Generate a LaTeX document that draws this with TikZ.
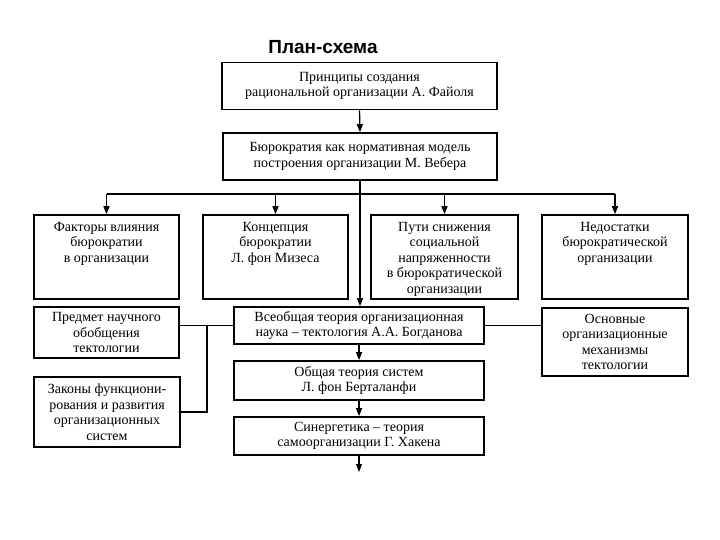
\documentclass[tikz,border=0pt]{standalone}
\usepackage{fontspec}
\setmainfont{Liberation Serif}
\newfontfamily\titlefont{Liberation Sans}
\usetikzlibrary{arrows.meta}
\tikzset{
  box/.style={draw, line width=1.6pt, inner sep=0pt, align=center,
    font=\fontsize{14}{15.5}\selectfont},
  conn/.style={line width=1.3pt},
  arr/.style={line width=1.3pt, -{Triangle[length=8pt,width=6pt]}}
}
\newcommand{\topbox}[2]{\parbox[c][#1][t]{144pt}{\centering\fontsize{14}{15.5}\selectfont\vspace*{4pt}#2}}
\begin{document}
\begin{tikzpicture}[x=1pt,y=-1pt]
\path[use as bounding box] (0,0) rectangle (720,540);

\node[font=\titlefont\bfseries\fontsize{19}{21}\selectfont] (title) at (323,47) {План-схема};

\node[box, minimum width=275pt, minimum height=47pt] (B1) at (359.5,86) {Принципы создания\\рациональной организации А. Файоля};
\node[box, minimum width=274pt, minimum height=47pt] (B2) at (360,156.5) {Бюрократия как нормативная модель\\построения организации М. Вебера};

\node[box, minimum width=145pt, minimum height=84pt] (A) at (106.5,257) {\topbox{78pt}{Факторы влияния\\бюрократии\\в организации}};
\node[box, minimum width=145pt, minimum height=84pt] (B) at (275.5,257) {\topbox{78pt}{Концепция\\бюрократии\\Л. фон Мизеса}};
\node[box, minimum width=147pt, minimum height=84pt] (C) at (444.5,257) {\topbox{78pt}{Пути снижения\\социальной\\напряженности\\в бюрократической\\организации}};
\node[box, minimum width=146pt, minimum height=84pt] (D) at (615,257) {\topbox{78pt}{Недостатки\\бюрократической\\организации}};

\node[box, minimum width=145pt, minimum height=51pt] (E) at (106.5,332.5) {Предмет научного\\обобщения\\тектологии};
\node[box, minimum width=146pt, minimum height=70pt] (F) at (107,412) {Законы функциони-\\рования и развития\\организационных\\систем};

\node[box, minimum width=250pt, minimum height=37pt] (G) at (359,325.5) {Всеобщая теория организационная\\наука – тектология А.А. Богданова};
\node[box, minimum width=250pt, minimum height=39pt] (K) at (359,380.5) {Общая теория систем\\Л. фон Берталанфи};
\node[box, minimum width=250pt, minimum height=38pt] (L) at (359,436) {Синергетика – теория\\самоорганизации Г. Хакена};

\node[box, minimum width=146pt, minimum height=68pt] (H) at (615,342) {Основные\\организационные\\механизмы\\тектологии};

\coordinate (bus) at (360,194);
\coordinate (jn) at (207,325.5);
\coordinate (endL) at (359,472);

\draw[arr] (B1.south) -- (B2.north);
\draw[arr] (B2.south) -- (B2.south |- G.north);
\draw[conn] (A.north |- bus) -- (D.north |- bus);
\draw[arr] (A.north |- bus) -- (A.north);
\draw[arr] (B.north |- bus) -- (B.north);
\draw[arr] (C.north |- bus) -- (C.north);
\draw[arr] (D.north |- bus) -- (D.north);

\draw[conn] (E.east |- G.west) -- (G.west);
\draw[conn] (jn) |- (F.east);
\draw[conn] (G.east) -- (G.east -| H.west);

\draw[arr] (G.south) -- (K.north);
\draw[arr] (K.south) -- (L.north);
\draw[arr] (L.south) -- (endL);
\end{tikzpicture}
\end{document}
